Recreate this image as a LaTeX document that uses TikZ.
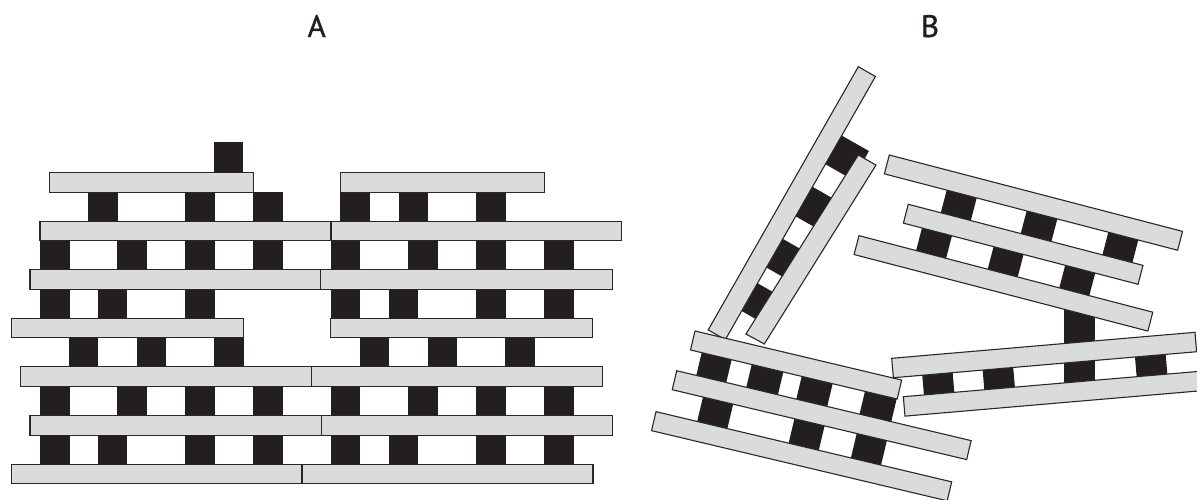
\documentclass[tikz,border=0pt]{standalone}
\usepackage{fontspec}
\newfontfamily\labfont[FakeBold=1.2]{PT Sans}
\definecolor{plankgray}{RGB}{218,219,221}
\definecolor{blockblack}{RGB}{35,31,32}
\definecolor{edgegray}{RGB}{40,40,40}
\tikzset{
  plank/.style={fill=plankgray, draw=edgegray, line width=1.1pt, line join=miter},
  blockfill/.style={fill=blockblack},
  lab/.style={font=\labfont\fontsize{31}{33}\selectfont, text=blockblack, anchor=base, inner sep=0pt}
}
\begin{document}
\begin{tikzpicture}[x=1pt,y=-1pt]
\useasboundingbox (0,0) rectangle (1197,499);

% ---------- labels ----------
\node[lab] (labA) at (316.7,37) {A};
\node[lab] (labB) at (930,37) {B};

% ---------- panel A: blocks ----------
\fill[blockfill] (213.7,142.3) rectangle (243.4,173);
\fill[blockfill] (253.3,191.6) rectangle (283,222);
\foreach \g/\xs in {
  1/{88,185,340.3,398.7,476},
  2/{40,117.3,185,253.3,330.7,408.3,476,544},
  3/{40,97.7,185,330.7,388.7,476,544},
  4/{68.7,136.7,214,359.7,427.7,505},
  5/{40,117.3,185,253.3,330.7,408.3,476,544},
  6/{40,97.7,185,253.3,330.7,388.7,476,544}}{
  \foreach \x in \xs {
    \fill[blockfill] (\x,{172.5+48.6*(\g-1)+18.6}) rectangle ++(29.7,31);
  }
}

% ---------- panel A: planks ----------
\foreach \r/\a/\b in {
  1/49.3/253.7, 1/340.3/544.3,
  2/40/331, 2/331/621.7,
  3/30/320.7, 3/320.7/612.3,
  4/11.3/243.7, 4/330.7/592.7,
  5/20.3/311.7, 5/311.7/602.7,
  6/30/321.3, 6/321.3/612.3,
  7/11.3/302, 7/302/593}{
  \draw[plank] (\a,{172.5+48.6*(\r-1)}) rectangle (\b,{172.5+48.6*(\r-1)+19.6});
}

% ---------- panel B: group 1 (steep pair) ----------
\begin{scope}[shift={(708.2,329.9)}, rotate=60.3]
  \foreach \s/\e in {33/65, 83/116, 142/176, 202/235}
    \fill[blockfill] (\s,19) rectangle (\e,51);
  \draw[plank] (0,0) rectangle (303,19.7);
  \draw[plank] (15.1,34.8) -- (226.3,43.7) -- (226.3,64.1) -- (15.6,55.7) -- cycle;
\end{scope}

% ---------- panel B: group 3 (lower left) ----------
\begin{scope}[shift={(695,331)}, rotate=-13.35]
  \foreach \s/\e in {11.5/42.3, 62.9/95.4, 114.3/146.1, 179.3/211.9}
    \fill[blockfill] (\s,19) rectangle (\e,43.5);
  \foreach \s/\e in {23/54, 117/148, 181/212}
    \fill[blockfill] (\s,62) rectangle (\e,88);
  \draw[plank] (0,0) rectangle (212.4,19.5);
  \draw[plank] (-8.6,42.9) rectangle (294,62.4);
  \draw[plank] (-19.3,87.5) rectangle (284.6,107);
\end{scope}

% ---------- panel B: upright block joining groups 2 and 4 ----------
\fill[blockfill] (1064.3,300) rectangle (1095,390);

% ---------- panel B: group 2 (upper right) ----------
\begin{scope}[shift={(889.3,155)}, rotate=-14.6]
  \foreach \s/\e in {64.4/95.4, 147/178.7, 231.4/262.4}
    \fill[blockfill] (\s,19) rectangle (\e,43.5);
  \foreach \s/\e in {50/81, 124/155, 198/229}
    \fill[blockfill] (\s,62) rectangle (\e,86.3);
  \draw[plank] (0,0) rectangle (303,19.5);
  \draw[plank] (30.8,42.9) rectangle (273.3,62.4);
  \draw[plank] (-9,85.7) rectangle (294.6,105.2);
\end{scope}

% ---------- panel B: group 4 (lower right) ----------
\begin{scope}[shift={(891.7,358.3)}, rotate=4.9]
  \foreach \s/\e in {29/59.5, 89.6/120.3, 242.5/273.3}
    \fill[blockfill] (\s,19) rectangle (\e,40);
  \draw[plank] (0,0) rectangle (304.4,19.5);
  \draw[plank] (8.3,39.25) rectangle (310,58.75);
\end{scope}
\end{tikzpicture}
\end{document}
